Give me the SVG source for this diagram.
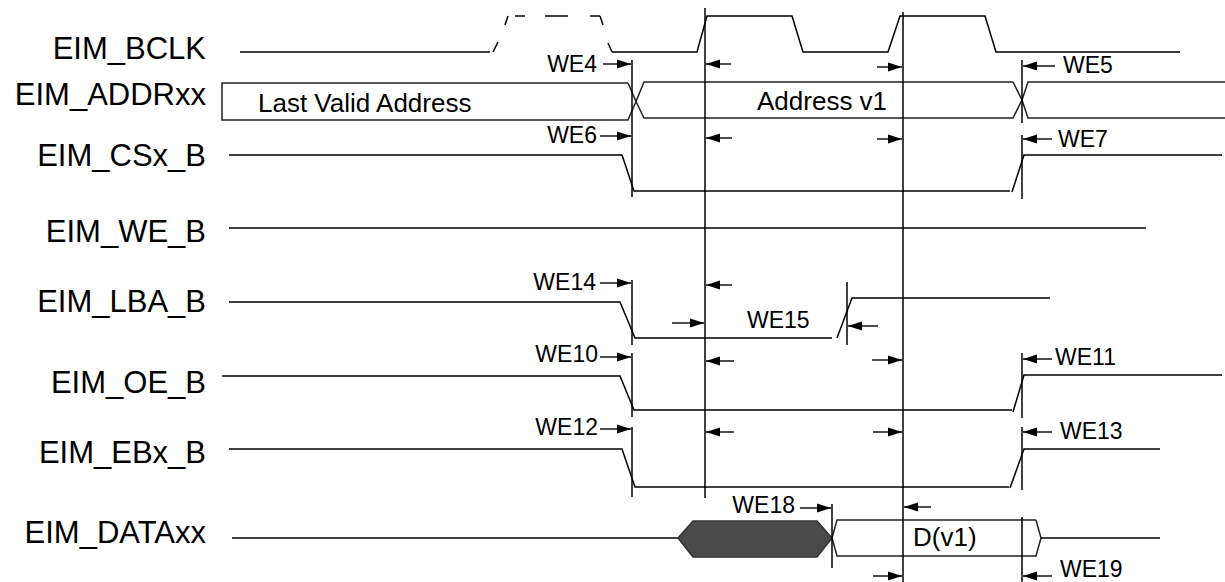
<svg xmlns="http://www.w3.org/2000/svg" width="1225" height="582" viewBox="0 0 1225 582">
<style>
.sig{fill:none;stroke:#000;stroke-width:1.5}
.bus{fill:none;stroke:#222;stroke-width:1.5}
.ref{fill:none;stroke:#000;stroke-width:1.5}
.arr{fill:none;stroke:#000;stroke-width:1.4}
.lbl{font-family:"Liberation Sans",Arial,sans-serif;font-size:31px;fill:#000;text-anchor:end}
.txt{font-family:"Liberation Sans",Arial,sans-serif;font-size:26px;fill:#000}
.we{font-family:"Liberation Sans",Arial,sans-serif;font-size:23px;fill:#000}
</style>
<defs>
<marker id="ah" markerUnits="userSpaceOnUse" markerWidth="16" markerHeight="12" refX="14" refY="6" orient="auto" overflow="visible">
<path d="M0,1.5 L14,6 L0,10.5 Z" fill="#000"/>
</marker>
</defs>
<rect width="1225" height="582" fill="#fff"/>

<g id="bclk">
<text class="lbl" x="206" y="59">EIM_BCLK</text>
<polyline class="sig" points="240,52 490,52"/>
<line class="sig" x1="493" y1="52" x2="498" y2="42"/>
<line class="sig" x1="505" y1="25" x2="508" y2="16"/>
<line class="sig" x1="515" y1="16" x2="525" y2="16"/>
<line class="sig" x1="545" y1="16" x2="568" y2="16"/>
<line class="sig" x1="590" y1="16" x2="600" y2="16"/>
<line class="sig" x1="600" y1="16" x2="603" y2="25"/>
<line class="sig" x1="608" y1="43" x2="612" y2="52"/>
<polyline class="sig" points="612,52 697,52 707,16 792,16 803,52 888,52 900,16 985,16 996,52 1180,52"/>
</g>

<g id="addr">
<text class="lbl" x="206" y="105">EIM_ADDRxx</text>
<polyline class="bus" points="628,83 222,83 222,120 628,120 636,101.5 628,83"/>
<polyline class="bus" points="1013,82 644,82 636,101.5 644,118 1013,118 1022,100 1013,82"/>
<polyline class="bus" points="1225,82 1028,82 1022,100 1028,118 1225,118"/>
<text class="txt" x="258" y="112">Last Valid Address</text>
<text class="txt" x="757" y="110">Address v1</text>
</g>

<g id="csx">
<text class="lbl" x="206" y="166">EIM_CSx_B</text>
<polyline class="sig" points="229,155 622,155 634,191 1010,191"/>
<polyline class="sig" points="1012,192 1024,155 1222,155"/>
</g>

<g id="we">
<text class="lbl" x="206" y="242">EIM_WE_B</text>
<line class="sig" x1="229" y1="228" x2="1146" y2="228"/>
</g>

<g id="lba">
<text class="lbl" x="206" y="312">EIM_LBA_B</text>
<polyline class="sig" points="229,302 620,302 635,338 832,338"/>
<polyline class="sig" points="837,338 852,298 1050,298"/>
</g>

<g id="oe">
<text class="lbl" x="206" y="393">EIM_OE_B</text>
<polyline class="sig" points="222,376 620,376 634,410 1012,410"/>
<polyline class="sig" points="1013,412 1024,375 1222,375"/>
</g>

<g id="ebx">
<text class="lbl" x="206" y="463">EIM_EBx_B</text>
<polyline class="sig" points="229,449 622,449 635,487 1009,487"/>
<polyline class="sig" points="1010,488 1024,449 1160,449"/>
</g>

<g id="data">
<text class="lbl" x="206" y="543">EIM_DATAxx</text>
<line class="sig" x1="232" y1="538" x2="678" y2="538"/>
<polygon points="678,538 693,521 817,521 832,538 817,557 693,557" fill="#4a4a4a" stroke="#333" stroke-width="1.5"/>
<polyline class="bus" points="1036,520 837,520 832,538 837,556 1036,556 1041,538 1036,520"/>
<line class="sig" x1="1041" y1="538" x2="1160" y2="538"/>
<text class="txt" x="913" y="546">D(v1)</text>
</g>

<g id="connectors">
<line class="ref" x1="632" y1="60" x2="632" y2="197"/>
<line class="ref" x1="632" y1="280" x2="632" y2="345"/>
<line class="ref" x1="632" y1="353" x2="632" y2="417"/>
<line class="ref" x1="632" y1="427" x2="632" y2="497"/>
<line class="ref" x1="705" y1="8" x2="705" y2="498"/>
<line class="ref" x1="903" y1="12" x2="903" y2="582"/>
<line class="ref" x1="1022" y1="60" x2="1022" y2="123"/>
<line class="ref" x1="1022" y1="135" x2="1022" y2="199"/>
<line class="ref" x1="1022" y1="353" x2="1022" y2="418"/>
<line class="ref" x1="1022" y1="427" x2="1022" y2="490"/>
<line class="ref" x1="1022" y1="517" x2="1022" y2="582"/>
<line class="ref" x1="832" y1="504" x2="832" y2="568"/>
<line class="ref" x1="847" y1="282" x2="847" y2="345"/>

<line class="arr" x1="603" y1="64" x2="631" y2="64" marker-end="url(#ah)"/>
<line class="arr" x1="731" y1="64" x2="706" y2="64" marker-end="url(#ah)"/>
<line class="arr" x1="877" y1="67" x2="902" y2="67" marker-end="url(#ah)"/>
<line class="arr" x1="1055" y1="66" x2="1023" y2="66" marker-end="url(#ah)"/>

<line class="arr" x1="600" y1="136" x2="631" y2="136" marker-end="url(#ah)"/>
<line class="arr" x1="732" y1="138" x2="706" y2="138" marker-end="url(#ah)"/>
<line class="arr" x1="877" y1="139" x2="902" y2="139" marker-end="url(#ah)"/>
<line class="arr" x1="1052" y1="139" x2="1023" y2="139" marker-end="url(#ah)"/>

<line class="arr" x1="600" y1="283" x2="631" y2="283" marker-end="url(#ah)"/>
<line class="arr" x1="732" y1="285" x2="706" y2="285" marker-end="url(#ah)"/>
<line class="arr" x1="672" y1="323" x2="704" y2="323" marker-end="url(#ah)"/>
<line class="arr" x1="878" y1="326" x2="848" y2="326" marker-end="url(#ah)"/>

<line class="arr" x1="600" y1="357" x2="631" y2="357" marker-end="url(#ah)"/>
<line class="arr" x1="734" y1="361" x2="706" y2="361" marker-end="url(#ah)"/>
<line class="arr" x1="872" y1="360" x2="902" y2="360" marker-end="url(#ah)"/>
<line class="arr" x1="1052" y1="359" x2="1023" y2="359" marker-end="url(#ah)"/>

<line class="arr" x1="600" y1="429" x2="631" y2="429" marker-end="url(#ah)"/>
<line class="arr" x1="734" y1="432" x2="706" y2="432" marker-end="url(#ah)"/>
<line class="arr" x1="873" y1="432" x2="902" y2="432" marker-end="url(#ah)"/>
<line class="arr" x1="1052" y1="432" x2="1023" y2="432" marker-end="url(#ah)"/>

<line class="arr" x1="800" y1="508" x2="831" y2="508" marker-end="url(#ah)"/>
<line class="arr" x1="931" y1="507" x2="904" y2="507" marker-end="url(#ah)"/>
<line class="arr" x1="873" y1="576" x2="902" y2="576" marker-end="url(#ah)"/>
<line class="arr" x1="1052" y1="576" x2="1023" y2="576" marker-end="url(#ah)"/>

<text class="we" x="597" y="72" text-anchor="end">WE4</text>
<text class="we" x="1063" y="73">WE5</text>
<text class="we" x="597" y="143" text-anchor="end">WE6</text>
<text class="we" x="1058" y="147">WE7</text>
<text class="we" x="596" y="290" text-anchor="end">WE14</text>
<text class="we" x="747" y="328">WE15</text>
<text class="we" x="598" y="362" text-anchor="end">WE10</text>
<text class="we" x="1055" y="365">WE11</text>
<text class="we" x="598" y="435" text-anchor="end">WE12</text>
<text class="we" x="1060" y="439">WE13</text>
<text class="we" x="795" y="513" text-anchor="end">WE18</text>
<text class="we" x="1060" y="577">WE19</text>
</g>
</svg>
